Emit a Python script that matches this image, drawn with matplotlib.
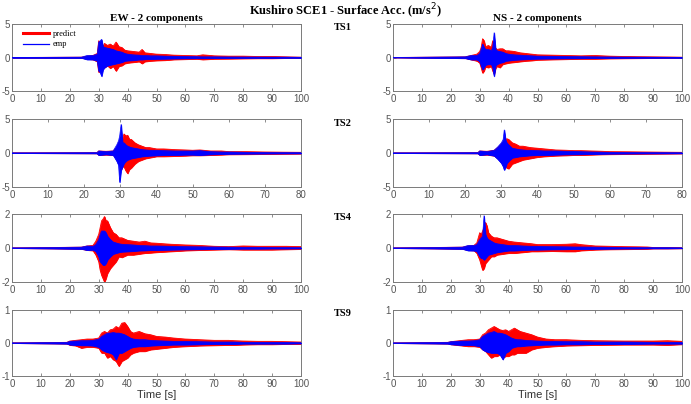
import matplotlib
matplotlib.use("Agg")
import matplotlib.pyplot as plt
from matplotlib.lines import Line2D

plt.rcParams["axes.unicode_minus"] = False

# ---------------- data (envelopes) ----------------
ew_ts1_t = [0, 24, 26, 28, 29.5, 30, 30.5, 31, 31.5, 32, 33, 34, 35, 36, 37, 38, 39, 40, 42, 44, 45, 46, 48, 50, 53, 56, 60, 64, 66, 70, 75, 80, 85, 90, 95, 100]
ew_ts1_pred_up = [0, 0.05, 0.2, 0.3, 0.6, 2.5, 2.0, 2.3, 1.6, 2.1, 1.8, 2.0, 1.7, 2.3, 1.6, 1.5, 1.1, 1.0, 0.9, 0.8, 1.2, 0.7, 0.6, 0.5, 0.45, 0.35, 0.3, 0.25, 0.4, 0.25, 0.2, 0.2, 0.15, 0.15, 0.1, 0.05]
ew_ts1_pred_lo = [0, -0.05, -0.2, -0.3, -0.6, -2.2, -1.8, -2.0, -1.4, -1.5, -1.2, -1.6, -1.3, -2.0, -1.3, -1.2, -0.9, -0.8, -0.7, -0.6, -0.9, -0.6, -0.5, -0.45, -0.4, -0.3, -0.25, -0.2, -0.3, -0.2, -0.18, -0.15, -0.12, -0.12, -0.08, -0.05]
ew_ts1_emp_up = [0, 0.05, 0.3, 0.3, 0.5, 2.3, 2.5, 2.7, 1.6, 1.5, 1.4, 1.3, 1.2, 1.0, 0.9, 0.8, 0.6, 0.5, 0.4, 0.35, 0.3, 0.3, 0.25, 0.25, 0.2, 0.18, 0.15, 0.12, 0.1, 0.1, 0.08, 0.07, 0.06, 0.05, 0.05, 0.03]
ew_ts1_emp_lo = [0, -0.05, -0.3, -0.3, -0.5, -2.0, -2.2, -2.8, -1.8, -1.5, -1.2, -1.1, -1.0, -0.9, -0.8, -0.7, -0.5, -0.45, -0.4, -0.3, -0.3, -0.25, -0.22, -0.2, -0.18, -0.15, -0.12, -0.1, -0.1, -0.08, -0.07, -0.06, -0.05, -0.05, -0.04, -0.03]

ns_ts1_t = [0, 25, 27, 29, 30, 30.5, 31, 31.5, 32, 33, 34, 34.5, 35, 35.5, 36, 37, 38, 39, 40, 42, 44, 46, 48, 50, 55, 60, 65, 70, 75, 80, 85, 90, 95, 100]
ns_ts1_pred_up = [0, 0.1, 0.3, 0.5, 0.9, 1.5, 2.8, 2.5, 1.6, 1.8, 1.5, 2.5, 1.5, 1.4, 1.2, 1.3, 1.3, 1.0, 1.0, 0.9, 0.7, 0.6, 0.5, 0.4, 0.35, 0.3, 0.25, 0.3, 0.2, 0.15, 0.12, 0.1, 0.08, 0.05]
ns_ts1_pred_lo = [0, -0.1, -0.3, -0.5, -0.8, -1.5, -2.3, -2.0, -1.4, -1.5, -1.3, -2.0, -2.5, -1.6, -1.3, -1.5, -1.0, -0.9, -0.8, -0.7, -0.6, -0.5, -0.45, -0.35, -0.3, -0.25, -0.2, -0.2, -0.15, -0.12, -0.1, -0.08, -0.06, -0.05]
ns_ts1_emp_up = [0, 0.1, 0.3, 0.3, 0.6, 1.2, 2.0, 1.5, 1.2, 1.2, 1.0, 1.5, 3.7, 1.2, 1.0, 0.9, 0.8, 0.6, 0.5, 0.4, 0.35, 0.3, 0.25, 0.2, 0.18, 0.15, 0.12, 0.1, 0.08, 0.06, 0.05, 0.04, 0.03, 0.02]
ns_ts1_emp_lo = [0, -0.1, -0.3, -0.3, -0.6, -1.2, -1.8, -1.5, -1.1, -1.0, -1.0, -1.5, -2.8, -1.2, -1.0, -0.8, -0.7, -0.5, -0.45, -0.35, -0.3, -0.25, -0.2, -0.18, -0.15, -0.12, -0.1, -0.08, -0.06, -0.05, -0.04, -0.03, -0.02, -0.02]

ew_ts2_t = [0, 23.5, 24, 26, 28, 29, 29.5, 29.8, 30.2, 30.6, 31, 31.5, 32, 32.5, 33, 34, 35, 36, 37, 38, 40, 42, 45, 48, 50, 52, 55, 58, 60, 65, 70, 75, 80]
ew_ts2_pred_up = [0, 0.05, 0.3, 0.25, 0.3, 0.8, 1.5, 1.8, 2.0, 2.2, 2.8, 2.5, 2.6, 2.0, 2.0, 1.5, 1.2, 1.0, 0.8, 0.8, 0.6, 0.6, 0.5, 0.45, 0.4, 0.45, 0.3, 0.3, 0.2, 0.2, 0.15, 0.12, 0.1]
ew_ts2_pred_lo = [0, -0.05, -0.3, -0.25, -0.3, -0.8, -1.5, -1.8, -2.5, -2.0, -2.0, -2.6, -3.0, -2.4, -2.2, -1.6, -1.2, -1.0, -0.8, -0.7, -0.5, -0.5, -0.45, -0.4, -0.35, -0.35, -0.3, -0.25, -0.2, -0.18, -0.15, -0.12, -0.1]
ew_ts2_emp_up = [0, 0.05, 0.3, 0.2, 0.3, 1.2, 1.8, 2.5, 4.2, 1.5, 1.5, 1.2, 1.0, 0.9, 0.8, 0.7, 0.6, 0.5, 0.45, 0.4, 0.4, 0.35, 0.3, 0.3, 0.3, 0.35, 0.2, 0.15, 0.15, 0.1, 0.08, 0.06, 0.05]
ew_ts2_emp_lo = [0, -0.05, -0.3, -0.2, -0.3, -1.2, -1.8, -4.3, -2.5, -2.0, -1.5, -1.2, -1.0, -0.9, -0.8, -0.7, -0.6, -0.5, -0.45, -0.4, -0.35, -0.3, -0.3, -0.25, -0.25, -0.3, -0.2, -0.15, -0.12, -0.1, -0.08, -0.06, -0.05]

ns_ts2_t = [0, 23.5, 24, 26, 28, 29, 30, 30.5, 30.8, 31.2, 31.5, 32, 33, 34, 35, 36, 37, 38, 40, 42, 45, 48, 50, 52, 55, 58, 60, 65, 70, 75, 80]
ns_ts2_pred_up = [0, 0.05, 0.3, 0.25, 0.4, 0.8, 1.3, 1.6, 1.8, 2.0, 2.1, 2.0, 1.5, 1.3, 1.0, 1.0, 0.9, 0.8, 0.7, 0.6, 0.45, 0.4, 0.35, 0.35, 0.3, 0.25, 0.2, 0.18, 0.15, 0.12, 0.1]
ns_ts2_pred_lo = [0, -0.05, -0.3, -0.25, -0.4, -0.8, -1.3, -1.6, -1.8, -2.0, -2.2, -2.3, -1.6, -1.4, -1.2, -1.0, -0.9, -0.8, -0.6, -0.5, -0.4, -0.35, -0.3, -0.3, -0.25, -0.2, -0.18, -0.15, -0.12, -0.1, -0.08]
ns_ts2_emp_up = [0, 0.05, 0.3, 0.2, 0.4, 0.9, 1.5, 2.0, 3.4, 1.8, 1.5, 1.2, 0.7, 0.6, 0.5, 0.45, 0.4, 0.4, 0.35, 0.3, 0.3, 0.25, 0.25, 0.2, 0.15, 0.12, 0.1, 0.08, 0.06, 0.05, 0.04]
ns_ts2_emp_lo = [0, -0.05, -0.3, -0.2, -0.4, -0.9, -1.5, -2.0, -2.5, -2.0, -1.5, -1.2, -0.7, -0.6, -0.5, -0.45, -0.4, -0.35, -0.3, -0.3, -0.25, -0.2, -0.2, -0.18, -0.15, -0.12, -0.1, -0.08, -0.06, -0.05, -0.04]

ew_ts4_t = [0, 24, 26, 28, 29, 30, 30.5, 31, 31.5, 32, 32.5, 33, 34, 35, 36, 37, 38, 40, 42, 44, 46, 48, 50, 55, 60, 65, 70, 75, 80, 85, 90, 95, 100]
ew_ts4_pred_up = [0, 0.05, 0.12, 0.15, 0.4, 0.8, 1.2, 1.6, 1.7, 1.85, 1.6, 1.6, 1.2, 0.9, 0.8, 0.6, 0.6, 0.45, 0.4, 0.35, 0.4, 0.3, 0.28, 0.22, 0.18, 0.15, 0.1, 0.08, 0.12, 0.1, 0.1, 0.1, 0.08]
ew_ts4_pred_lo = [0, -0.05, -0.12, -0.15, -0.4, -0.8, -1.3, -1.6, -1.8, -2.0, -1.8, -1.5, -1.2, -1.0, -0.8, -0.5, -0.55, -0.4, -0.4, -0.35, -0.3, -0.28, -0.25, -0.2, -0.15, -0.12, -0.1, -0.08, -0.1, -0.1, -0.1, -0.08, -0.06]
ew_ts4_emp_up = [0, 0.05, 0.12, 0.1, 0.2, 0.5, 0.8, 1.0, 1.0, 1.0, 0.9, 0.7, 0.5, 0.35, 0.3, 0.25, 0.22, 0.2, 0.18, 0.15, 0.14, 0.12, 0.12, 0.1, 0.08, 0.07, 0.06, 0.05, 0.04, 0.04, 0.03, 0.03, 0.02]
ew_ts4_emp_lo = [0, -0.05, -0.12, -0.1, -0.2, -0.5, -0.8, -0.9, -1.0, -1.0, -0.9, -0.7, -0.5, -0.35, -0.3, -0.25, -0.22, -0.2, -0.18, -0.15, -0.14, -0.12, -0.12, -0.1, -0.08, -0.07, -0.06, -0.05, -0.04, -0.04, -0.03, -0.03, -0.02]

ns_ts4_t = [0, 24, 26, 28, 29, 30, 30.5, 31, 31.5, 32, 32.5, 33, 34, 35, 36, 38, 40, 42, 45, 48, 50, 55, 60, 63, 65, 70, 75, 80, 85, 88, 90, 95, 100]
ns_ts4_pred_up = [0, 0.05, 0.12, 0.15, 0.3, 0.9, 0.8, 1.0, 1.2, 1.5, 1.3, 0.9, 0.7, 0.6, 0.6, 0.5, 0.4, 0.35, 0.3, 0.25, 0.2, 0.2, 0.22, 0.25, 0.2, 0.12, 0.1, 0.08, 0.07, 0.06, 0.03, 0.03, 0.02]
ns_ts4_pred_lo = [0, -0.05, -0.12, -0.15, -0.3, -0.7, -1.0, -1.3, -1.2, -0.9, -0.8, -0.7, -0.5, -0.5, -0.4, -0.35, -0.3, -0.3, -0.25, -0.2, -0.2, -0.18, -0.2, -0.2, -0.15, -0.1, -0.08, -0.07, -0.06, -0.05, -0.03, -0.03, -0.02]
ns_ts4_emp_up = [0, 0.05, 0.15, 0.15, 0.2, 0.5, 0.6, 0.7, 1.9, 0.8, 0.6, 0.5, 0.4, 0.3, 0.25, 0.2, 0.15, 0.15, 0.12, 0.1, 0.1, 0.08, 0.07, 0.06, 0.06, 0.05, 0.04, 0.03, 0.03, 0.02, 0.02, 0.02, 0.01]
ns_ts4_emp_lo = [0, -0.05, -0.15, -0.15, -0.2, -0.5, -0.6, -0.6, -0.7, -0.6, -0.5, -0.4, -0.35, -0.3, -0.25, -0.2, -0.15, -0.15, -0.12, -0.1, -0.1, -0.08, -0.07, -0.06, -0.06, -0.05, -0.04, -0.03, -0.03, -0.02, -0.02, -0.02, -0.01]

ew_ts9_t = [0, 19, 20, 22, 24, 26, 28, 30, 31, 32, 33, 34, 35, 36, 37, 38, 39, 40, 41, 42, 44, 46, 48, 50, 53, 56, 60, 65, 70, 75, 77, 80, 85, 90, 95, 100]
ew_ts9_pred_up = [0, 0.02, 0.06, 0.08, 0.1, 0.12, 0.12, 0.15, 0.3, 0.35, 0.3, 0.4, 0.42, 0.5, 0.45, 0.6, 0.62, 0.5, 0.35, 0.3, 0.35, 0.28, 0.25, 0.2, 0.18, 0.15, 0.12, 0.1, 0.08, 0.08, 0.07, 0.06, 0.05, 0.05, 0.04, 0.03]
ew_ts9_pred_lo = [0, -0.02, -0.06, -0.08, -0.15, -0.12, -0.12, -0.15, -0.3, -0.3, -0.45, -0.4, -0.5, -0.55, -0.7, -0.55, -0.5, -0.45, -0.35, -0.3, -0.25, -0.25, -0.2, -0.18, -0.15, -0.12, -0.1, -0.08, -0.07, -0.06, -0.06, -0.05, -0.04, -0.04, -0.03, -0.03]
ew_ts9_emp_up = [0, 0.02, 0.05, 0.06, 0.07, 0.07, 0.08, 0.12, 0.2, 0.25, 0.3, 0.3, 0.32, 0.3, 0.3, 0.28, 0.25, 0.2, 0.15, 0.12, 0.1, 0.1, 0.08, 0.07, 0.06, 0.05, 0.05, 0.04, 0.03, 0.03, 0.03, 0.02, 0.02, 0.02, 0.02, 0.01]
ew_ts9_emp_lo = [0, -0.02, -0.05, -0.06, -0.07, -0.07, -0.08, -0.12, -0.2, -0.25, -0.28, -0.3, -0.35, -0.5, -0.3, -0.3, -0.25, -0.2, -0.15, -0.12, -0.1, -0.1, -0.08, -0.07, -0.06, -0.05, -0.05, -0.04, -0.03, -0.03, -0.03, -0.02, -0.02, -0.02, -0.02, -0.01]

ns_ts9_t = [0, 19, 20, 22, 24, 26, 28, 30, 31, 32, 33, 34, 35, 36, 37, 38, 39, 40, 41, 42, 43, 44, 46, 48, 50, 53, 56, 60, 65, 70, 80, 90, 95, 100]
ns_ts9_pred_up = [0, 0.02, 0.04, 0.06, 0.08, 0.1, 0.1, 0.12, 0.25, 0.3, 0.4, 0.45, 0.5, 0.45, 0.4, 0.38, 0.4, 0.35, 0.4, 0.45, 0.4, 0.35, 0.3, 0.25, 0.18, 0.12, 0.1, 0.1, 0.08, 0.07, 0.06, 0.06, 0.07, 0.05]
ns_ts9_pred_lo = [0, -0.02, -0.04, -0.06, -0.08, -0.1, -0.1, -0.12, -0.2, -0.25, -0.35, -0.45, -0.4, -0.4, -0.35, -0.45, -0.4, -0.4, -0.35, -0.35, -0.3, -0.3, -0.3, -0.2, -0.15, -0.12, -0.1, -0.08, -0.07, -0.06, -0.05, -0.05, -0.06, -0.04]
ns_ts9_emp_up = [0, 0.02, 0.04, 0.05, 0.06, 0.06, 0.07, 0.1, 0.2, 0.25, 0.3, 0.32, 0.35, 0.3, 0.3, 0.28, 0.25, 0.2, 0.15, 0.12, 0.1, 0.1, 0.08, 0.07, 0.06, 0.05, 0.05, 0.04, 0.04, 0.03, 0.03, 0.02, 0.02, 0.02]
ns_ts9_emp_lo = [0, -0.02, -0.04, -0.05, -0.06, -0.06, -0.07, -0.1, -0.2, -0.25, -0.28, -0.3, -0.3, -0.3, -0.35, -0.5, -0.3, -0.25, -0.15, -0.12, -0.1, -0.1, -0.08, -0.07, -0.06, -0.05, -0.05, -0.04, -0.04, -0.03, -0.03, -0.02, -0.02, -0.02]

station_labels = ["TS1", "TS2", "TS4", "TS9"]
column_titles = ["EW - 2 components", "NS - 2 components"]
x_limits = [100, 80, 100, 100]
y_limits = [5, 5, 2, 1]
series_labels = ["predict", "emp"]

panels = [
    [(ew_ts1_t, ew_ts1_pred_up, ew_ts1_pred_lo, ew_ts1_emp_up, ew_ts1_emp_lo),
     (ns_ts1_t, ns_ts1_pred_up, ns_ts1_pred_lo, ns_ts1_emp_up, ns_ts1_emp_lo)],
    [(ew_ts2_t, ew_ts2_pred_up, ew_ts2_pred_lo, ew_ts2_emp_up, ew_ts2_emp_lo),
     (ns_ts2_t, ns_ts2_pred_up, ns_ts2_pred_lo, ns_ts2_emp_up, ns_ts2_emp_lo)],
    [(ew_ts4_t, ew_ts4_pred_up, ew_ts4_pred_lo, ew_ts4_emp_up, ew_ts4_emp_lo),
     (ns_ts4_t, ns_ts4_pred_up, ns_ts4_pred_lo, ns_ts4_emp_up, ns_ts4_emp_lo)],
    [(ew_ts9_t, ew_ts9_pred_up, ew_ts9_pred_lo, ew_ts9_emp_up, ew_ts9_emp_lo),
     (ns_ts9_t, ns_ts9_pred_up, ns_ts9_pred_lo, ns_ts9_emp_up, ns_ts9_emp_lo)],
]

RED = "#FF0000"
BLUE = "#0000FF"
FRAME = "#7a7a7a"
TICKC = "#555555"

W, H = 691, 404
fig = plt.figure(figsize=(W / 100, H / 100), dpi=100)

col_x = [12, 393]
col_w = 289
row_y = [(24, 91), (119, 187), (214, 282), (310, 376)]

serif = "Liberation Serif"
sans = "Liberation Sans"

for r in range(4):
    top, bot = row_y[r]
    for c in range(2):
        ax = fig.add_axes([col_x[c] / W, 1 - bot / H, col_w / W, (bot - top) / H])
        t, pu, pl, eu, el = panels[r][c]
        ax.fill_between(t, pl, pu, color=RED, linewidth=0.6, edgecolor=RED, zorder=2)
        ax.plot(t, pu, color=RED, lw=0.6, zorder=2)
        ax.plot(t, pl, color=RED, lw=0.6, zorder=2)
        ax.fill_between(t, el, eu, color=BLUE, linewidth=0.6, edgecolor=BLUE, zorder=3)
        ax.plot(t, eu, color=BLUE, lw=0.5, zorder=3)
        ax.plot(t, el, color=BLUE, lw=0.5, zorder=3)
        ax.set_xlim(0, x_limits[r])
        ax.set_ylim(-y_limits[r], y_limits[r])
        ax.set_xticks(range(0, x_limits[r] + 1, 10))
        ax.set_yticks([-y_limits[r], 0, y_limits[r]])
        ax.tick_params(direction="in", length=2.5, width=0.6, top=True, right=True,
                       colors=FRAME, labelcolor=TICKC, labelsize=7, pad=2)
        ax.tick_params(axis="y", pad=1.5)
        for lab in ax.get_xticklabels() + ax.get_yticklabels():
            lab.set_fontfamily(sans)
        for s in ax.spines.values():
            s.set_color(FRAME)
            s.set_linewidth(0.7)
        if r == 0:
            ax.set_title(column_titles[c], fontfamily=serif, fontweight="bold",
                         fontsize=8, pad=2)
            if c == 0:
                handles = [Line2D([], [], color=RED, lw=2.2),
                           Line2D([], [], color=BLUE, lw=0.9)]
                ax.legend(handles, series_labels, loc="upper left", frameon=False,
                          prop={"family": serif, "size": 6}, handlelength=3.2,
                          handletextpad=0.4, labelspacing=0.25,
                          borderaxespad=0.2, bbox_to_anchor=(0.02, 0.98))
        if r == 3:
            ax.set_xlabel("Time [s]", fontfamily=sans, fontsize=8, color="#333333",
                          labelpad=1)
    fig.text(343 / W, 1 - (top + 4) / H, station_labels[r], ha="center", va="center",
             fontfamily=serif, fontweight="bold", fontsize=7.5)

fig.text(0.5, 1 - 2 / H, "Kushiro SCE1 - Surface Acc. (m/s$^2$)", ha="center",
         va="top", fontfamily=serif, fontweight="bold", fontsize=9)

fig.savefig("out.png", dpi=100)
